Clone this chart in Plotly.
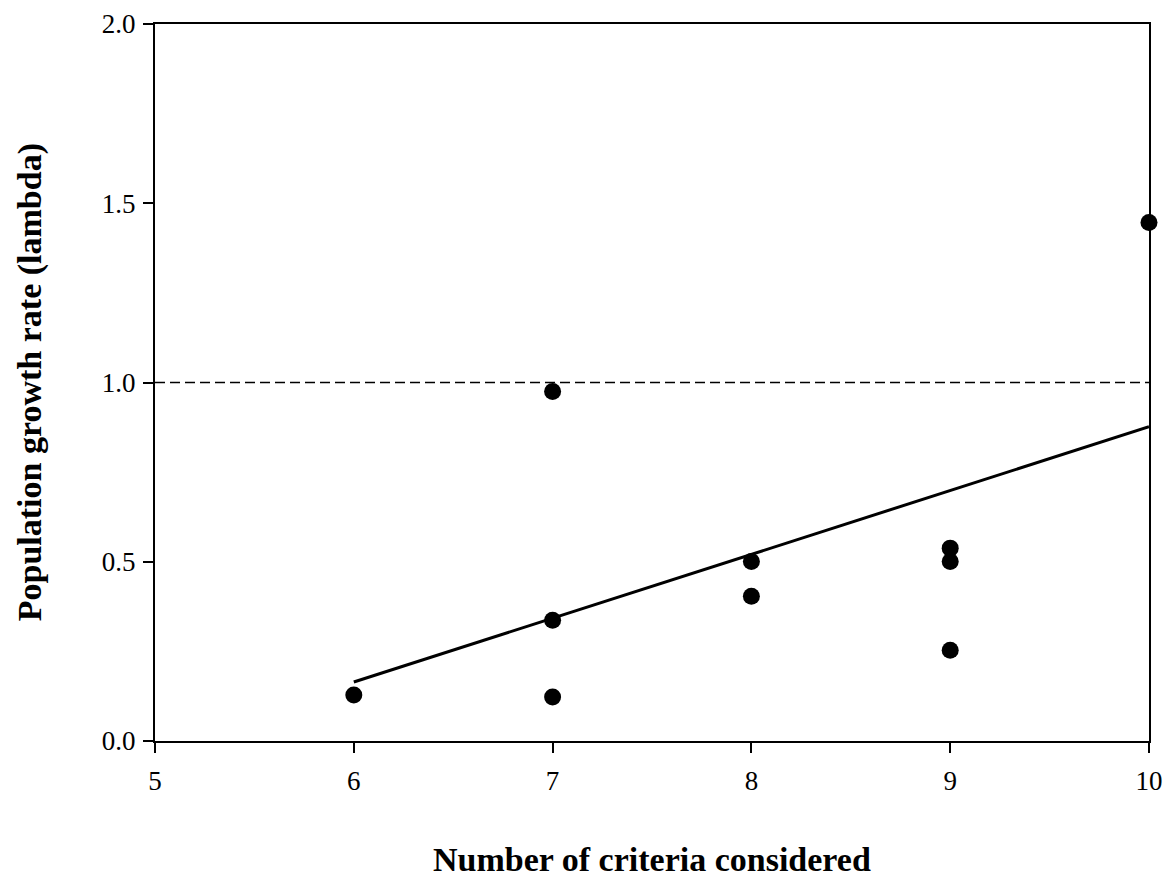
import numpy as np
import plotly.graph_objects as go

# Number of criteria considered vs. population growth rate (lambda)
criteria = [6, 7, 7, 7, 8, 8, 9, 9, 9, 10]
growth_rate = [0.128, 0.123, 0.337, 0.975, 0.501, 0.404, 0.538, 0.501, 0.253, 1.446]

x_ticks = [5, 6, 7, 8, 9, 10]
y_ticks = [0.0, 0.5, 1.0, 1.5, 2.0]
y_tick_labels = ["0.0", "0.5", "1.0", "1.5", "2.0"]

# Least-squares regression line across the observed range
slope, intercept = np.polyfit(criteria, growth_rate, 1)
fit_x = [min(criteria), max(criteria)]
fit_y = [intercept + slope * v for v in fit_x]

font_family = "Liberation Serif, Times New Roman, serif"

fig = go.Figure()

fig.add_trace(go.Scatter(
    x=fit_x, y=fit_y, mode="lines",
    line=dict(color="black", width=3),
    showlegend=False, hoverinfo="skip",
))

fig.add_trace(go.Scatter(
    x=criteria, y=growth_rate, mode="markers",
    marker=dict(color="black", size=17, line=dict(width=0)),
    showlegend=False, cliponaxis=False,
))

# Reference line at lambda = 1 (stable population)
fig.add_shape(
    type="line", xref="x", yref="y",
    x0=5, x1=10, y0=1.0, y1=1.0,
    line=dict(color="black", width=1.3, dash="10px,5px"),
    layer="below",
)

axis_common = dict(
    showgrid=False, zeroline=False, automargin=False,
    showline=True, linecolor="black", linewidth=2, mirror=True,
    ticks="outside", ticklen=10, tickwidth=2, tickcolor="black",
    tickfont=dict(family=font_family, size=27, color="black"),
)

fig.update_xaxes(
    range=[5, 10], tickvals=x_ticks, ticktext=[str(v) for v in x_ticks],
    ticklabelstandoff=5, **axis_common,
)
fig.update_yaxes(
    range=[0, 2], tickvals=y_ticks, ticktext=y_tick_labels,
    ticklabelstandoff=2, **axis_common,
)

fig.add_annotation(
    text="<b>Number of criteria considered</b>",
    xref="paper", yref="paper", x=0.5, y=-0.165,
    xanchor="center", yanchor="middle", showarrow=False,
    font=dict(family=font_family, size=34, color="black"),
)
fig.add_annotation(
    text="<b>Population growth rate (lambda)</b>",
    xref="paper", yref="paper", x=-0.126, y=0.5,
    xanchor="center", yanchor="middle", showarrow=False, textangle=-90,
    font=dict(family=font_family, size=34, color="black"),
)

fig.update_layout(
    width=1168, height=882,
    margin=dict(l=155, r=19, t=24, b=141),
    plot_bgcolor="white", paper_bgcolor="white",
    font=dict(family=font_family, color="black"),
)

fig.write_html("out.html")
